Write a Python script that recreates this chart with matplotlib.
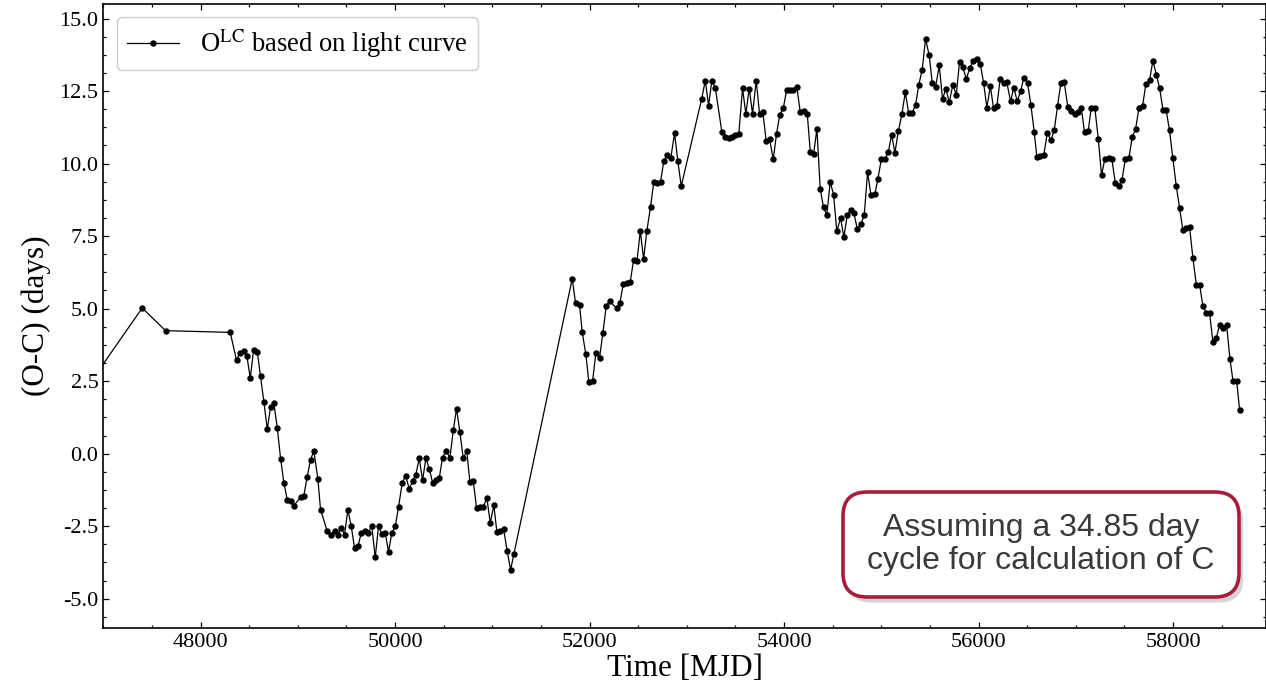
import matplotlib
matplotlib.use("Agg")
import matplotlib.pyplot as plt
from matplotlib.ticker import MultipleLocator, AutoMinorLocator, FormatStrFormatter
from matplotlib.patches import FancyBboxPatch
from matplotlib.transforms import IdentityTransform
import matplotlib.patheffects as pe

# ---- data ----
time_mjd = [
    46700, 47400, 47640,
    48305, 48370, 48404, 48442, 48476, 48511, 48545, 48583, 48617, 48651,
    48686, 48720, 48754, 48789, 48823, 48857, 48892, 48925, 48959, 49028,
    49062, 49097, 49131, 49165, 49206, 49234, 49303, 49337, 49378, 49412,
    49447, 49481, 49515, 49550, 49584, 49618, 49653, 49686, 49720, 49761,
    49796, 49830, 49864, 49899, 49933, 49967, 50002, 50036, 50074, 50108,
    50146, 50180, 50214, 50249, 50283, 50317, 50352, 50386, 50420, 50455,
    50488, 50526, 50564, 50599, 50632, 50666, 50701, 50738, 50769, 50804,
    50838, 50872, 50907, 50944, 50979, 51016, 51047, 51082, 51116, 51154,
    51188, 51222,
    51822, 51856, 51897, 51925, 51962, 51993, 52031, 52065, 52103, 52137,
    52172, 52206, 52278, 52312, 52347, 52381, 52419, 52453, 52487, 52522,
    52556, 52589, 52627, 52661, 52696, 52730, 52764, 52799, 52836, 52874,
    52908, 52943,
    53152, 53190, 53224, 53258, 53293, 53361, 53396, 53429, 53463, 53498,
    53535, 53573, 53607, 53642, 53676, 53714, 53748, 53782, 53817, 53851,
    53889, 53923, 53957, 53992, 54026, 54060, 54095, 54132, 54167, 54201,
    54239, 54270, 54304, 54338, 54372, 54406, 54440, 54475, 54509, 54543,
    54581, 54615, 54650, 54684, 54718, 54753, 54790, 54825, 54859, 54893,
    54934, 54965, 55000, 55037, 55072, 55106, 55140, 55175, 55212, 55247,
    55281, 55319, 55353, 55386, 55421, 55455, 55493, 55524, 55558, 55596,
    55630, 55664, 55699, 55736, 55771, 55805, 55839, 55874, 55911, 55946,
    55983, 56018, 56052, 56086, 56121, 56154, 56188, 56223, 56257, 56291,
    56329, 56363, 56398, 56432, 56466, 56504, 56538, 56573, 56600, 56635,
    56672, 56707, 56744, 56779, 56813, 56846, 56881, 56918, 56953, 56987,
    57021, 57056, 57090, 57128, 57159, 57196, 57231, 57265, 57299, 57337,
    57371, 57406, 57440, 57474, 57509, 57546, 57581, 57615, 57649, 57687,
    57721, 57759, 57793, 57828, 57862, 57896, 57930, 57964, 57998, 58033,
    58067, 58101, 58136, 58170, 58204, 58239, 58273, 58307, 58342, 58376,
    58410, 58445, 58479, 58513, 58551, 58585, 58616, 58654, 58684,
]

o_minus_c = [
    1.65, 5.02, 4.24,
    4.18, 3.22, 3.47, 3.53, 3.38, 2.60, 3.56, 3.52, 2.66, 1.79,
    0.84, 1.60, 1.73, 0.89, -0.17, -1.01, -1.59, -1.62, -1.79, -1.51,
    -1.45, -0.79, -0.21, 0.09, -0.86, -1.93, -2.68, -2.82, -2.68, -2.79,
    -2.57, -2.79, -1.93, -2.51, -3.26, -3.20, -2.73, -2.68, -2.73, -2.51,
    -3.58, -2.51, -2.76, -2.73, -3.39, -2.73, -2.51, -1.84, -1.00, -0.76,
    -1.21, -0.95, -0.72, -0.16, -0.92, -0.16, -0.52, -1.00, -0.90, -0.84,
    -0.14, 0.10, -0.15, 0.80, 1.55, 0.76, -0.15, 0.09, -0.97, -0.94,
    -1.86, -1.84, -1.84, -1.52, -2.39, -1.78, -2.69, -2.66, -2.60, -3.37,
    -4.01, -3.46,
    6.03, 5.19, 5.14, 4.18, 3.42, 2.46, 2.49, 3.47, 3.30, 4.16,
    5.10, 5.25, 5.02, 5.19, 5.85, 5.89, 5.93, 6.68, 6.63, 7.67,
    6.71, 7.67, 8.51, 9.37, 9.33, 9.37, 10.09, 10.28, 10.20, 11.05,
    10.08, 9.22,
    12.21, 12.86, 12.00, 12.86, 12.61, 11.08, 10.92, 10.87, 10.92, 10.98,
    11.03, 12.59, 11.72, 12.58, 11.72, 12.86, 11.72, 11.77, 10.77, 10.86,
    10.14, 11.03, 11.69, 11.90, 12.52, 12.52, 12.54, 12.63, 11.77, 11.80,
    11.71, 10.40, 10.34, 11.19, 9.13, 8.49, 8.23, 9.38, 8.92, 7.67,
    8.13, 7.46, 8.22, 8.39, 8.30, 7.75, 7.90, 8.24, 9.70, 8.93,
    8.94, 9.47, 10.14, 10.17, 10.39, 11.00, 10.37, 11.11, 11.71, 12.46,
    11.75, 11.75, 12.03, 12.72, 13.24, 14.30, 13.73, 12.78, 12.63, 13.38,
    12.22, 12.58, 12.11, 12.72, 12.37, 13.51, 13.32, 12.92, 13.30, 13.55,
    13.60, 13.44, 12.78, 11.92, 12.67, 11.92, 11.97, 12.93, 12.76, 12.80,
    12.15, 12.61, 12.15, 12.49, 12.96, 12.78, 12.03, 11.08, 10.22, 10.27,
    10.31, 11.06, 10.80, 11.16, 12.00, 12.76, 12.80, 11.96, 11.80, 11.72,
    11.78, 11.93, 11.08, 11.13, 11.92, 11.92, 10.86, 9.60, 10.16, 10.20,
    10.15, 9.34, 9.23, 9.42, 10.14, 10.18, 10.92, 11.19, 11.90, 12.00,
    12.74, 12.87, 13.55, 13.06, 12.60, 11.86, 11.83, 11.14, 10.18, 9.23,
    8.47, 7.71, 7.77, 7.82, 6.75, 5.83, 5.83, 5.09, 4.85, 4.85,
    3.84, 3.98, 4.45, 4.33, 4.44, 3.27, 2.52, 2.52, 1.52,
]

legend_label = r"O$^{\mathrm{LC}}$ based on light curve"
note_text = "Assuming a 34.85 day\ncycle for calculation of C"
x_label = "Time [MJD]"
y_label = "(O-C) (days)"

# ---- style ----
plt.rcParams["font.family"] = ["Liberation Serif", "DejaVu Serif"]
plt.rcParams["mathtext.fontset"] = "stix"
plt.rcParams["axes.unicode_minus"] = True

W, H = 1266, 690
fig = plt.figure(figsize=(W / 100, H / 100), dpi=100)
ax = fig.add_axes([103.3 / W, 62.3 / H, 1162.7 / W, 623.7 / H])

ax.plot(time_mjd, o_minus_c, color="black", lw=0.9, marker="o",
        markersize=3.6, label=legend_label)

ax.set_xlim(47000, 58956)
ax.set_ylim(-6.0, 15.5)
ax.xaxis.set_major_locator(MultipleLocator(2000))
ax.xaxis.set_minor_locator(AutoMinorLocator(4))
ax.yaxis.set_major_locator(MultipleLocator(2.5))
ax.yaxis.set_minor_locator(AutoMinorLocator(4))
ax.yaxis.set_major_formatter(FormatStrFormatter("%.1f"))

ax.tick_params(which="both", direction="in", top=True, right=True,
               labelsize=16, width=0.9)
ax.tick_params(which="major", length=4.5)
ax.tick_params(which="minor", length=2.5)
for s in ax.spines.values():
    s.set_linewidth(1.2)

ax.set_xlabel(x_label, fontsize=22.5, labelpad=2)
ax.set_ylabel(y_label, fontsize=22.5, labelpad=6)

leg = ax.legend(loc="upper left", fontsize=19.2, handlelength=1.95,
                handletextpad=0.8, borderaxespad=0.5, borderpad=0.38,
                fancybox=True, framealpha=1.0)
leg.get_frame().set_edgecolor("#cccccc")
leg.get_frame().set_linewidth(1.0)

# note box (drawn in figure pixels) with a soft shadow
box = FancyBboxPatch((843, H - 597), 396, 105,
                     boxstyle="round,pad=0,rounding_size=24",
                     transform=IdentityTransform(), fc="white",
                     ec="#a81e3a", lw=2.6, zorder=6)
box.set_path_effects([pe.SimplePatchShadow(offset=(3, -4), shadow_rgbFace="#888888",
                                           alpha=0.35),
                      pe.Normal()])
fig.patches.append(box)
box.set_figure(fig)
fig.text(1041 / W, (H - 544.5) / H, note_text, ha="center", va="center",
         fontsize=23, linespacing=1.13, color="#3a3a3a",
         family=["Liberation Sans", "DejaVu Sans"], zorder=7)

fig.savefig("out.png", dpi=100)
